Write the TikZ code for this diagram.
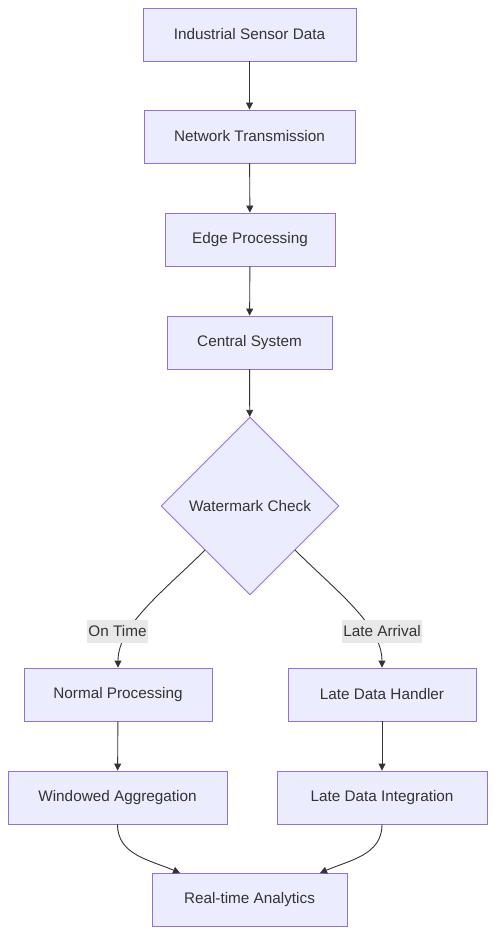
\documentclass[tikz,border=0pt]{standalone}
\usepackage{fontspec}
\setmainfont{Liberation Sans}
\usetikzlibrary{shapes.geometric,arrows.meta}
\definecolor{boxfill}{HTML}{ECECFF}
\definecolor{boxline}{HTML}{9370DB}
\definecolor{txt}{HTML}{333333}
\definecolor{lblbg}{HTML}{E8E8E8}
\tikzset{
  box/.style={draw=boxline, fill=boxfill, line width=0.9pt, text=txt, font=\fontsize{15.3}{17}\selectfont, minimum height=53pt, inner sep=0pt},
  dia/.style={draw=boxline, fill=boxfill, line width=0.9pt, diamond, text=txt, font=\fontsize{15.3}{17}\selectfont, minimum width=178pt, minimum height=178pt, inner sep=0pt},
  conn/.style={draw=txt, line width=0.9pt, -{Triangle[length=7pt,width=7pt]}},
  lbl/.style={fill=lblbg, text=txt, font=\fontsize{15.3}{17}\selectfont, inner sep=1pt, minimum height=23pt}
}
\begin{document}
\begin{tikzpicture}[x=1pt,y=-1pt]
\useasboundingbox (0,0) rectangle (503,949);
\fill[white] (0,0) rectangle (503,949);
\node[box, minimum width=213pt] (a) at (249.5,34.5) {Industrial Sensor Data};
\node[box, minimum width=211pt] (b) at (249.5,136.5) {Network Transmission};
\node[box, minimum width=170pt] (c) at (250,239.5) {Edge Processing};
\node[box, minimum width=165pt] (d) at (249.5,342.5) {Central System};
\node[dia] (e) at (250,506) {Watermark Check};
\node[box, minimum width=188pt] (f) at (118,694.5) {Normal Processing};
\node[box, minimum width=188pt] (g) at (382,694.5) {Late Data Handler};
\node[box, minimum width=219pt] (h) at (117.5,797.5) {Windowed Aggregation};
\node[box, minimum width=210pt] (i) at (382,797.5) {Late Data Integration};
\node[box, minimum width=195pt] (j) at (249.5,899.5) {Real-time Analytics};

\draw[conn] (a) -- (b);
\draw[conn] (b) -- (c);
\draw[conn] (c) -- (d);
\draw[conn] (d) -- (e);
\coordinate (el) at (205,550);
\coordinate (er) at (295,550);
\draw[conn] (el) .. controls (165,590) and (118,625) .. (f.north);
\draw[conn] (er) .. controls (335,590) and (382,625) .. (g.north);
\node[lbl] (l1) at (117.5,631.5) {On Time};
\node[lbl] (l2) at (382,631.5) {Late Arrival};
\draw[conn] (f) -- (h);
\draw[conn] (g) -- (i);
\draw[conn] (h.south) .. controls (117.5,855) and (150,860) .. (180,873);
\draw[conn] (i.south) .. controls (382,855) and (350,860) .. (320,873);
\end{tikzpicture}
\end{document}
